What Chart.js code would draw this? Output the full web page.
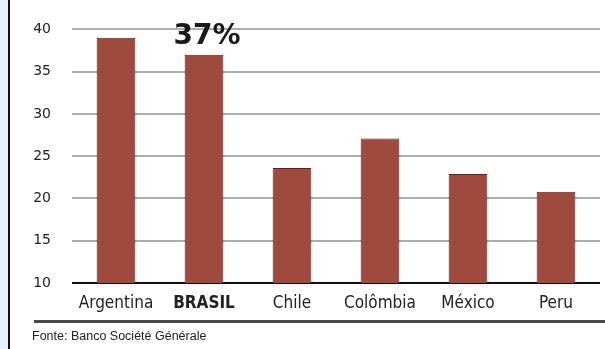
<!DOCTYPE html>
<html>
<head>
<meta charset="utf-8">
<script src="https://cdn.jsdelivr.net/npm/chart.js@4"></script>
<style>
  html, body { margin: 0; padding: 0; background: #fff; }
  #wrap { position: relative; width: 605px; height: 349px; overflow: hidden; }
  #strip { position: absolute; left: 0; top: 0; width: 8px; height: 349px; background: #e8f1fb; }
  #edge { position: absolute; left: 8px; top: 0; width: 2px; height: 349px; background: #111; }
  #rule { position: absolute; left: 34px; top: 320px; width: 571px; height: 3px; background: #4a4a4a; }
  #source { position: absolute; left: 32px; top: 329px; font: 12.5px "Liberation Sans", Arial, sans-serif; color: #222; }
  #box { position: absolute; left: 0; top: 0; width: 605px; height: 349px; }
</style>
</head>
<body>
<div id="wrap">
  <div id="box"><canvas id="chart"></canvas></div>
  <div id="strip"></div>
  <div id="edge"></div>
  <div id="rule"></div>
  <div id="source">Fonte: Banco Société Générale</div>
</div>
<script>
// chart data
const countries = ['Argentina', 'BRASIL', 'Chile', 'Colômbia', 'México', 'Peru'];
const shares = [39, 37, 23.6, 27.1, 22.9, 20.8];
const yTicks = [10, 15, 20, 25, 30, 35, 40];
const highlight = 1; // BRASIL

// writes the "37%" label above the highlighted bar
const valueLabel = {
    id: 'valueLabel',
    afterDatasetsDraw(chart) {
        const bar = chart.getDatasetMeta(0).data[highlight];
        const ctx = chart.ctx;
        ctx.save();
        ctx.font = 'bold 28px "DejaVu Sans", sans-serif';
        ctx.fillStyle = '#1a1a1a';
        ctx.textAlign = 'center';
        ctx.textBaseline = 'alphabetic';
        ctx.fillText(shares[highlight] + '%', bar.x + 3, bar.y - 11);
        ctx.restore();
    }
};

const ctx = document.getElementById('chart').getContext('2d');
new Chart(ctx, {
    type: 'bar',
    data: {
        labels: countries,
        datasets: [{
            data: shares,
            backgroundColor: '#9f4a3e',
            borderColor: '#5a2119',
            borderWidth: 1,
            barPercentage: 0.88,
            categoryPercentage: 0.5
        }]
    },
    options: {
        responsive: true,
        maintainAspectRatio: false,
        animation: false,
        layout: { padding: { left: 0, right: 5, top: 25, bottom: 0 } },
        plugins: {
            legend: { display: false },
            tooltip: { enabled: false }
        },
        scales: {
            x: {
                grid: { display: false, drawTicks: false },
                border: { display: false },
                ticks: {
                    padding: 10,
                    color: '#222',
                    font: (c) => ({
                        family: '"Liberation Sans Narrow", "DejaVu Sans Condensed", sans-serif',
                        size: 17,
                        weight: c.index === highlight ? 'bold' : 'normal'
                    })
                },
                afterFit(scale) { scale.height = 66; }
            },
            y: {
                min: 10,
                max: 40,
                afterBuildTicks(scale) { scale.ticks = yTicks.map(v => ({ value: v })); },
                grid: {
                    drawTicks: false,
                    lineWidth: 2,
                    color: (c) => c.tick && c.tick.value === 10 ? '#111' : '#adadad'
                },
                border: { display: false },
                ticks: {
                    padding: 21,
                    color: '#222',
                    font: { family: '"DejaVu Sans", sans-serif', size: 14 }
                },
                afterFit(scale) { scale.width = 72; }
            }
        }
    },
    plugins: [valueLabel]
});
</script>
</body>
</html>
